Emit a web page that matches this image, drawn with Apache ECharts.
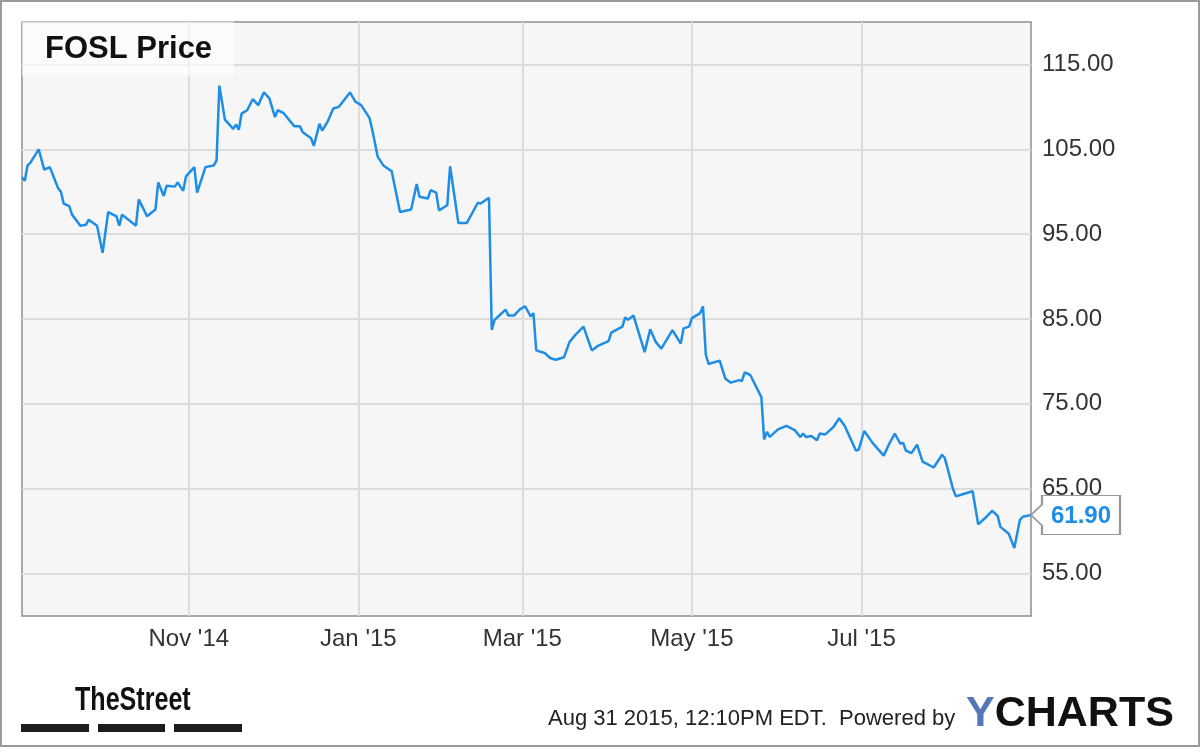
<!DOCTYPE html>
<html>
<head>
<meta charset="utf-8">
<script src="https://cdn.jsdelivr.net/npm/echarts@6/dist/echarts.min.js"></script>
<style>
  html, body { margin: 0; padding: 0; background: #fff; }
  #fosl { width: 1200px; height: 747px; }
</style>
</head>
<body>
<div id="fosl"></div>
<script>
// closing prices
const dates = [
  "2014-09-02", "2014-09-03", "2014-09-04", "2014-09-05", "2014-09-08", "2014-09-10", "2014-09-12",
  "2014-09-15", "2014-09-16", "2014-09-17", "2014-09-19", "2014-09-20", "2014-09-23", "2014-09-25",
  "2014-09-26", "2014-09-29", "2014-10-01", "2014-10-03", "2014-10-06", "2014-10-07", "2014-10-08",
  "2014-10-13", "2014-10-14", "2014-10-17", "2014-10-20", "2014-10-21", "2014-10-23", "2014-10-24",
  "2014-10-27", "2014-10-28", "2014-10-30", "2014-10-31", "2014-11-03", "2014-11-04", "2014-11-07",
  "2014-11-10", "2014-11-11", "2014-11-12", "2014-11-14", "2014-11-17", "2014-11-18", "2014-11-19",
  "2014-11-20", "2014-11-22", "2014-11-24", "2014-11-26", "2014-11-28", "2014-11-30", "2014-12-02",
  "2014-12-03", "2014-12-05", "2014-12-09", "2014-12-11", "2014-12-12", "2014-12-15", "2014-12-16",
  "2014-12-18", "2014-12-19", "2014-12-21", "2014-12-23", "2014-12-25", "2014-12-29", "2014-12-31",
  "2015-01-02", "2015-01-05", "2015-01-06", "2015-01-08", "2015-01-10", "2015-01-13", "2015-01-16",
  "2015-01-20", "2015-01-22", "2015-01-23", "2015-01-26", "2015-01-27", "2015-01-29", "2015-01-30",
  "2015-02-02", "2015-02-03", "2015-02-06", "2015-02-09", "2015-02-13", "2015-02-14", "2015-02-17",
  "2015-02-18", "2015-02-19", "2015-02-21", "2015-02-23", "2015-02-24", "2015-02-26", "2015-02-28",
  "2015-03-02", "2015-03-04", "2015-03-05", "2015-03-06", "2015-03-09", "2015-03-11", "2015-03-13",
  "2015-03-16", "2015-03-18", "2015-03-20", "2015-03-23", "2015-03-26", "2015-03-28", "2015-04-01",
  "2015-04-02", "2015-04-06", "2015-04-07", "2015-04-08", "2015-04-10", "2015-04-14", "2015-04-16",
  "2015-04-18", "2015-04-20", "2015-04-24", "2015-04-27", "2015-04-28", "2015-04-30", "2015-05-01",
  "2015-05-04", "2015-05-05", "2015-05-06", "2015-05-07", "2015-05-11", "2015-05-13", "2015-05-15",
  "2015-05-18", "2015-05-19", "2015-05-20", "2015-05-22", "2015-05-26", "2015-05-27", "2015-05-28",
  "2015-05-29", "2015-06-01", "2015-06-04", "2015-06-07", "2015-06-09", "2015-06-10", "2015-06-11",
  "2015-06-13", "2015-06-15", "2015-06-16", "2015-06-18", "2015-06-20", "2015-06-21", "2015-06-23",
  "2015-06-25", "2015-06-29", "2015-06-30", "2015-07-02", "2015-07-05", "2015-07-09", "2015-07-11",
  "2015-07-13", "2015-07-15", "2015-07-16", "2015-07-17", "2015-07-19", "2015-07-21", "2015-07-23",
  "2015-07-27", "2015-07-30", "2015-07-31", "2015-08-03", "2015-08-04", "2015-08-07", "2015-08-10",
  "2015-08-12", "2015-08-15", "2015-08-17", "2015-08-19", "2015-08-20", "2015-08-23", "2015-08-25",
  "2015-08-27", "2015-08-28", "2015-08-31"
];
const prices = [
  101.7, 101.3, 103.1, 103.4, 105.0, 102.6, 102.9,
  100.4, 100.0, 98.6, 98.3, 97.3, 96.0, 96.1,
  96.7, 96.0, 92.8, 97.6, 97.1, 96.0, 97.3,
  96.0, 99.1, 97.1, 97.9, 101.1, 99.5, 100.7,
  100.6, 101.1, 100.1, 101.8, 102.9, 99.9, 102.9,
  103.1, 103.7, 112.5, 108.5, 107.4, 107.9, 107.3,
  109.2, 109.6, 110.9, 110.2, 111.7, 111.0, 108.8,
  109.6, 109.3, 107.7, 107.7, 107.0, 106.3, 105.4,
  108.0, 107.2, 108.3, 109.8, 110.0, 111.7, 110.6,
  110.2, 108.7, 107.3, 104.1, 103.1, 102.4, 97.6,
  97.9, 100.9, 99.4, 99.2, 100.2, 99.9, 97.8,
  98.4, 103.0, 96.3, 96.3, 98.7, 98.6, 99.3,
  83.7, 84.9, 85.5, 86.1, 85.4, 85.4, 86.1,
  86.5, 85.3, 85.7, 81.3, 81.0, 80.4, 80.2,
  80.5, 82.3, 83.1, 84.1, 81.3, 81.8, 82.4,
  83.4, 84.1, 85.2, 84.9, 85.4, 81.1, 83.8,
  82.3, 81.5, 83.7, 82.1, 83.9, 84.1, 85.1,
  85.7, 86.5, 80.8, 79.7, 80.1, 78.0, 77.5,
  77.8, 77.7, 78.7, 78.4, 75.8, 70.8, 71.7,
  71.1, 72.0, 72.4, 71.9, 71.1, 71.5, 71.1,
  71.2, 70.7, 71.5, 71.4, 72.0, 72.3, 73.3,
  72.4, 69.5, 69.6, 71.8, 70.4, 68.9, 70.3,
  71.5, 70.3, 70.4, 69.5, 69.2, 70.2, 68.2,
  67.5, 69.0, 68.6, 64.9, 64.1, 64.4, 64.7,
  60.8, 61.7, 62.4, 61.8, 60.5, 59.7, 58.0,
  61.3, 61.7, 61.9
];
const priceTicks = [55, 65, 75, 85, 95, 105, 115];
const monthTicks = ["2014-11-01", "2015-01-01", "2015-03-01", "2015-05-01", "2015-07-01"];
const monthNames = ["Jan", "Feb", "Mar", "Apr", "May", "Jun", "Jul", "Aug", "Sep", "Oct", "Nov", "Dec"];

const blue = "#1e8de6";
const font = "Liberation Sans, Arial, sans-serif";

const toTime = (s) => Date.UTC(+s.slice(0, 4), +s.slice(5, 7) - 1, +s.slice(8, 10));
const monthTickTimes = monthTicks.map(toTime);
const seriesData = dates.map((d, i) => [toTime(d), prices[i]]);
const last = seriesData[seriesData.length - 1];

const chart = echarts.init(document.getElementById("fosl"));

const option = {
  backgroundColor: "#fff",
  animation: false,
  title: {
    text: "FOSL Price",
    left: 22,
    top: 22,
    padding: [12, 22, 12, 23],
    backgroundColor: "rgba(255,255,255,0.6)",
    textStyle: {
      fontFamily: font,
      fontSize: 31,
      fontWeight: "bold",
      color: "#111",
      lineHeight: 30,
    },
  },
  grid: {
    left: 22,
    right: 169,
    top: 22,
    bottom: 131,
    show: true,
    backgroundColor: "#f6f6f6",
    borderColor: "#8f8f8f",
    borderWidth: 1.5,
  },
  xAxis: {
    type: "value",
    min: toTime("2014-09-02"),
    max: toTime("2015-08-31"),
    axisLine: { show: false },
    axisTick: { show: false, customValues: monthTickTimes },
    axisLabel: {
      customValues: monthTickTimes,
      margin: 11,
      fontFamily: font,
      fontSize: 24,
      color: "#333",
      formatter: (v) => {
        const d = new Date(v);
        return monthNames[d.getUTCMonth()] + " '" + String(d.getUTCFullYear()).slice(2);
      },
    },
    splitLine: { show: true, lineStyle: { color: "#dcdcdc", width: 2 } },
  },
  yAxis: {
    type: "value",
    position: "right",
    min: 50,
    max: 120,
    axisLine: { show: false },
    axisTick: { show: false, customValues: priceTicks },
    axisLabel: {
      customValues: priceTicks,
      margin: 11,
      fontFamily: font,
      fontSize: 24,
      color: "#333",
      formatter: (v) => v.toFixed(2),
    },
    splitLine: { show: true, lineStyle: { color: "#dcdcdc", width: 2 } },
  },
  series: [
    {
      type: "line",
      data: seriesData,
      showSymbol: false,
      lineStyle: { color: blue, width: 2.5 },
      itemStyle: { color: blue },
      markPoint: {
        silent: true,
        symbol: "path://M0,19.5 L11,9 L11,0 L89,0 L89,39 L11,39 L11,30 Z",
        symbolSize: [89, 39],
        symbolOffset: [44.5, 0],
        symbolKeepAspect: false,
        itemStyle: { color: "#fff", borderColor: "#999", borderWidth: 1.5 },
        label: {
          show: true,
          position: "inside",
          offset: [5.5, 1],
          fontFamily: font,
          fontSize: 24,
          fontWeight: "bold",
          color: blue,
          formatter: (p) => p.value.toFixed(2),
        },
        data: [{ coord: last, value: last[1] }],
      },
    },
  ],
  graphic: [
    {
      type: "rect",
      silent: true,
      shape: { x: 1, y: 1, width: 1198, height: 745 },
      style: { fill: "none", stroke: "#9a9a9a", lineWidth: 2 },
    },
    {
      type: "group",
      x: 75,
      y: 684,
      scaleX: 0.76,
      children: [
        {
          type: "text",
          x: 0,
          y: 0,
          style: {
            text: "TheStreet",
            font: "bold 33px 'Liberation Sans', Arial, sans-serif",
            fill: "#111",
          },
        },
      ],
    },
    { type: "rect", shape: { x: 21, y: 724, width: 68, height: 8 }, style: { fill: "#1c1c1c" } },
    { type: "rect", shape: { x: 98, y: 724, width: 67, height: 8 }, style: { fill: "#1c1c1c" } },
    { type: "rect", shape: { x: 174, y: 724, width: 68, height: 8 }, style: { fill: "#1c1c1c" } },
    {
      type: "text",
      left: 548,
      top: 708,
      style: {
        text: "Aug 31 2015, 12:10PM EDT.  Powered by",
        font: "22px 'Liberation Sans', Arial, sans-serif",
        fill: "#222",
      },
    },
    {
      type: "text",
      left: 966,
      top: 693,
      style: {
        text: "{y|Y}{c|CHARTS}",
        rich: {
          y: { font: "bold 43px 'Liberation Sans', Arial, sans-serif", fill: "#5577b8" },
          c: { font: "bold 43px 'Liberation Sans', Arial, sans-serif", fill: "#111" },
        },
      },
    },
  ],
};

chart.setOption(option);
window.addEventListener("resize", () => chart.resize());
</script>
</body>
</html>
